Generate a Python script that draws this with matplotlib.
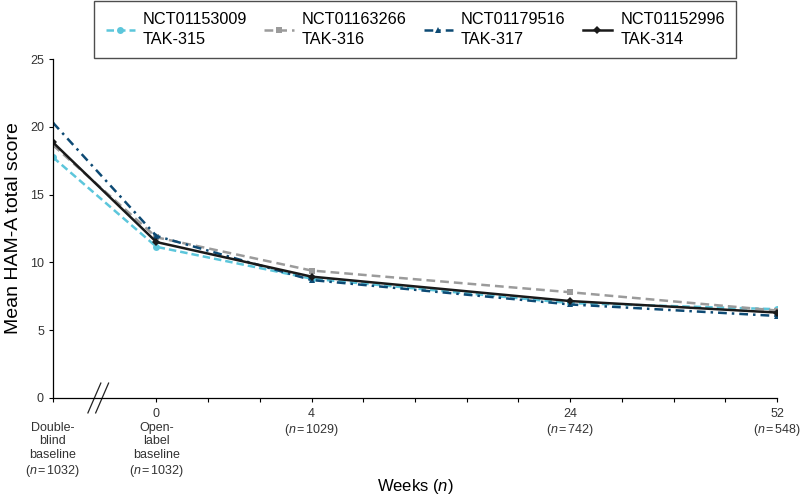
import matplotlib

matplotlib.use("Agg")
import matplotlib.pyplot as plt  # noqa: E402
from matplotlib.lines import Line2D  # noqa: E402

plt.rcParams["font.family"] = ["Liberation Sans", "DejaVu Sans"]
plt.rcParams["mathtext.fontset"] = "custom"
plt.rcParams["mathtext.it"] = "Liberation Sans:italic"
plt.rcParams["mathtext.rm"] = "Liberation Sans"

# category positions on the (broken) week axis, in tick units
positions = [-2, 0, 3, 8, 12]
tick_labels = [
    "\nDouble-\nblind\nbaseline\n($n$$\\,$=$\\,$1032)",
    "0\nOpen-\nlabel\nbaseline\n($n$$\\,$=$\\,$1032)",
    "4\n($n$$\\,$=$\\,$1029)",
    "24\n($n$$\\,$=$\\,$742)",
    "52\n($n$$\\,$=$\\,$548)",
]

tak315 = [17.75, 11.15, 8.8, 7.0, 6.55]
tak316 = [18.65, 11.85, 9.4, 7.8, 6.45]
tak317 = [20.3, 11.95, 8.7, 6.9, 6.05]
tak314 = [18.85, 11.5, 8.95, 7.15, 6.3]

series = [
    ("NCT01153009\nTAK-315", tak315, "#5cc6db", "o", (0, (3.0, 1.6))),
    ("NCT01163266\nTAK-316", tak316, "#9b9b9b", "s", (0, (3.5, 2.0))),
    ("NCT01179516\nTAK-317", tak317, "#0d4a74", "^", (0, (3.5, 2.0, 1.0, 2.0))),
    ("NCT01152996\nTAK-314", tak314, "#1a1a1a", "D", "-"),
]

fig = plt.figure(figsize=(8.0, 5.01), dpi=100)
ax = fig.add_axes([0.06625, 0.2056, 0.905, 0.6766])

handles = []
for label, vals, color, marker, ls in series:
    (ln,) = ax.plot(
        positions, vals, color=color, linestyle=ls, linewidth=1.8,
        marker=marker, markersize=5 if marker != "D" else 4,
        markeredgewidth=0, label=label,
    )
    handles.append(ln)

ax.set_xlim(-2, 12)
ax.set_ylim(0, 25)
ax.set_yticks([0, 5, 10, 15, 20, 25])
ax.set_xticks(range(0, 13), minor=True)
ax.set_xticks(positions)
ax.set_xticklabels(tick_labels, fontsize=9, color="#333333", linespacing=1.2, va="top")
ax.tick_params(axis="y", labelsize=9, labelcolor="#333333", length=3, width=0.8)
ax.tick_params(axis="x", which="both", length=3, width=0.8, pad=4)
for s in ["top", "right"]:
    ax.spines[s].set_visible(False)
for s in ["left", "bottom"]:
    ax.spines[s].set_linewidth(0.9)

# axis break marks
for dx in (-1.2, -1.05):
    ax.add_line(Line2D([dx - 0.125, dx + 0.125], [-1.1, 1.1], color="#222222",
                       linewidth=0.9, clip_on=False))

ax.set_ylabel("Mean HAM-A total score", fontsize=14, va="center")
ax.yaxis.set_label_coords(-0.054, 0.5)
ax.set_xlabel("Weeks ($n$)", fontsize=12, va="center")
ax.xaxis.set_label_coords(0.5, -0.2625)

leg = fig.legend(
    handles=handles, loc="upper center", bbox_to_anchor=(0.519, 0.999),
    ncol=4, fontsize=11.7, handlelength=1.8, handletextpad=0.5,
    columnspacing=1.05, frameon=True, fancybox=False, borderpad=0.7,
    borderaxespad=0,
)
for t in leg.get_texts():
    t.set_linespacing(1.4)
leg.get_frame().set_edgecolor("#222222")
leg.get_frame().set_linewidth(1.0)

fig.savefig("out.png", dpi=100)
